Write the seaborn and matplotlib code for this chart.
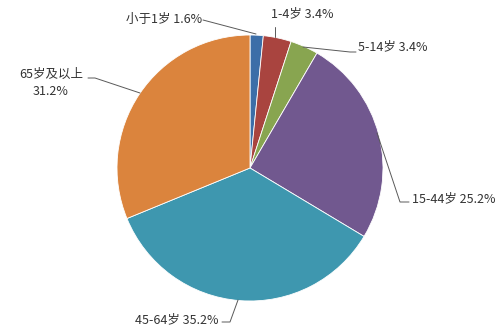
import matplotlib
matplotlib.use("Agg")
import matplotlib.pyplot as plt
import seaborn as sns

# data
categories = ["小于1岁", "1-4岁", "5-14岁", "15-44岁", "45-64岁", "65岁及以上"]
values = [1.6, 3.4, 3.4, 25.2, 35.2, 31.2]
colors = ["#3C6EA8", "#A9443F", "#88A550", "#71588F", "#3E97AF", "#DB843D"]

sns.set_theme(style="white")
plt.rcParams["font.family"] = ["Noto Sans CJK SC", "DejaVu Sans"]

W, H = 500, 336
fig = plt.figure(figsize=(5, 3.36), dpi=100)
ax = fig.add_axes([0, 0, 1, 1])

palette = sns.color_palette(colors)
ax.pie(values, colors=palette, startangle=90, counterclock=False,
       center=(250, H - 168), radius=133, frame=True,
       wedgeprops=dict(edgecolor="white", linewidth=0.6))
ax.set_xlim(0, W)
ax.set_ylim(0, H)
ax.set_aspect("equal")
ax.axis("off")

def lab(i, single=True):
    if single:
        return f"{categories[i]} {values[i]:.1f}%"
    return f"{categories[i]}\n{values[i]:.1f}%"

# label layout: (text x, text y, ha, leader points) in pixel coords (y from top)
layout = [
    (202, 19, "right", [(203, 20), (256, 34)]),
    (302, 14, "center", [(275, 27), (275, 37)]),
    (358, 47, "left", [(303, 47), (350, 52), (356, 52)]),
    (412, 199, "left", [(377, 133), (400, 202), (409, 202)]),
    (135, 320, "left", [(238, 300), (230, 322), (222, 322)]),
    (51, 83, "center", [(88, 78), (95, 78), (140, 93)]),
]
tc = "#333333"
for i, (tx, ty, ha, pts) in enumerate(layout):
    txt = lab(i, single=(i != 5))
    ax.text(tx, H - ty, txt, ha=ha, va="center", fontsize=9.0, color=tc,
            linespacing=1.4)
    xs = [p[0] for p in pts]
    ys = [H - p[1] for p in pts]
    ax.plot(xs, ys, color="#595959", lw=0.7)

fig.savefig("out.png", dpi=100)
